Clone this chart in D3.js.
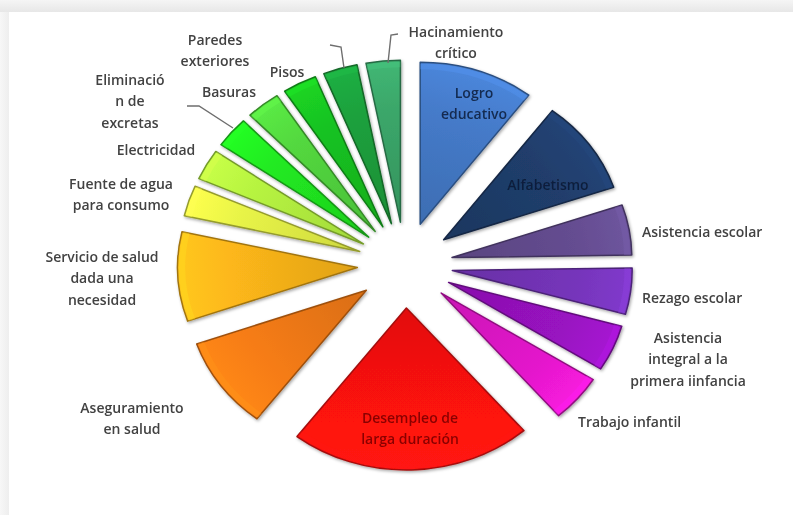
<!DOCTYPE html>
<html>
<head>
<meta charset="utf-8">
<script src="https://cdn.jsdelivr.net/npm/d3@7"></script>
<style>
  html, body { margin: 0; padding: 0; background: #ffffff; }
  svg { display: block; }
</style>
</head>
<body>
<svg id="chart" width="793" height="515"></svg>
<script>
// ---------------- DATA ----------------
const categories = [
  "Logro educativo", "Alfabetismo", "Asistencia escolar", "Rezago escolar",
  "Asistencia integral a la primera iinfancia", "Trabajo infantil",
  "Desempleo de larga duración", "Aseguramiento en salud",
  "Servicio de salud dada una necesidad", "Fuente de agua para consumo",
  "Electricidad", "Eliminación de excretas", "Basuras", "Pisos",
  "Paredes exteriores", "Hacinamiento crítico"
];
// share of the circle (%)
const values = [10.3, 9.4, 5.0, 4.6, 4.6, 4.7, 21.7, 9.2, 8.9, 3.06, 3.06, 3.06, 3.06, 3.06, 3.06, 3.06];
const colors = [
  "#4479c6", "#1f3d6a", "#634c8e", "#7434b8", "#9612be", "#e018c8",
  "#fc1210", "#f27a14", "#f9b41a", "#e4f046", "#b4f040", "#20e620",
  "#52d43e", "#18c020", "#1c9e3c", "#3aa468"
];
// label text lines
const labelLines = [
  ["Logro", "educativo"], ["Alfabetismo"], ["Asistencia escolar"], ["Rezago escolar"],
  ["Asistencia", "integral a la", "primera iinfancia"], ["Trabajo infantil"],
  ["Desempleo de", "larga duración"], ["Aseguramiento", "en salud"],
  ["Servicio de salud", "dada una", "necesidad"], ["Fuente de agua", "para consumo"],
  ["Electricidad"], ["Eliminació", "n de", "excretas"], ["Basuras"], ["Pisos"],
  ["Paredes", "exteriores"], ["Hacinamiento", "crítico"]
];

// ---------------- LAYOUT ----------------
const W = 793, H = 515;
const cx = 405, cy = 265, sx = 1.11, R = 162, explode = 43;

// label placement: [x, firstLineY, anchor, color]
const labelPlace = {
  "Logro educativo": [474, 93, "middle", "#132a50"],
  "Alfabetismo": [548, 185, "middle", "#0c1f3c"],
  "Asistencia escolar": [642, 232, "start", "#424242"],
  "Rezago escolar": [642, 298, "start", "#424242"],
  "Asistencia integral a la primera iinfancia": [688, 338, "middle", "#424242"],
  "Trabajo infantil": [578, 422, "start", "#424242"],
  "Desempleo de larga duración": [410, 418, "middle", "#8a0606"],
  "Aseguramiento en salud": [132, 408, "middle", "#424242"],
  "Servicio de salud dada una necesidad": [102, 257, "middle", "#424242"],
  "Fuente de agua para consumo": [121, 184, "middle", "#424242"],
  "Electricidad": [156, 150, "middle", "#424242"],
  "Eliminación de excretas": [130, 80, "middle", "#424242"],
  "Basuras": [229, 92, "middle", "#424242"],
  "Pisos": [287, 72, "middle", "#424242"],
  "Paredes exteriores": [215, 40, "middle", "#424242"],
  "Hacinamiento crítico": [456, 32, "middle", "#424242"]
};
const lineH = 21.5;

const data = categories.map((c, i) => ({ cat: c, value: values[i], color: colors[i], lines: labelLines[i] }));

const svg = d3.select("#chart");
const defs = svg.append("defs");

// background frame (grey bands on top and left)
const topG = defs.append("linearGradient").attr("id", "topband").attr("x1", 0).attr("y1", 0).attr("x2", 0).attr("y2", 1);
topG.append("stop").attr("offset", "0%").attr("stop-color", "#f5f5f5");
topG.append("stop").attr("offset", "100%").attr("stop-color", "#e7e7e7");
const leftG = defs.append("linearGradient").attr("id", "leftband").attr("x1", 0).attr("y1", 0).attr("x2", 1).attr("y2", 0);
leftG.append("stop").attr("offset", "0%").attr("stop-color", "#f7f7f7");
leftG.append("stop").attr("offset", "100%").attr("stop-color", "#eeeeee");

svg.append("rect").attr("width", W).attr("height", H).attr("fill", "#ffffff");
svg.append("rect").attr("x", 0).attr("y", 0).attr("width", 9).attr("height", H).attr("fill", "url(#leftband)");
svg.append("rect").attr("x", 0).attr("y", 0).attr("width", W).attr("height", 12).attr("fill", "url(#topband)");

// shadow filter
const f = defs.append("filter").attr("id", "shadow").attr("x", "-20%").attr("y", "-20%").attr("width", "140%").attr("height", "140%");
f.append("feDropShadow").attr("dx", 1).attr("dy", 1.5).attr("stdDeviation", 1.6)
  .attr("flood-color", "#000").attr("flood-opacity", 0.35);
const soft = defs.append("filter").attr("id", "soft");
soft.append("feGaussianBlur").attr("stdDeviation", 0.35);

const pie = d3.pie().sort(null).value(d => d.value).startAngle(0).endAngle(2 * Math.PI);
const arcs = pie(data);
const arcGen = d3.arc().innerRadius(0).outerRadius(R);
const rimGen = d3.arc().innerRadius(R - 7).outerRadius(R - 1.5);

// gradients per slice
arcs.forEach((a, i) => {
  const mid = (a.startAngle + a.endAngle) / 2;
  const c = d3.color(a.data.color);
  const g = defs.append("linearGradient").attr("id", "g" + i)
    .attr("gradientUnits", "userSpaceOnUse")
    .attr("x1", 0).attr("y1", 0)
    .attr("x2", R * Math.sin(mid)).attr("y2", -R * Math.cos(mid));
  g.append("stop").attr("offset", "0%").attr("stop-color", c.darker(0.3));
  g.append("stop").attr("offset", "70%").attr("stop-color", c.brighter(0.05));
  g.append("stop").attr("offset", "100%").attr("stop-color", c.brighter(0.3));
});

const pieG = svg.append("g").attr("transform", `translate(${cx},${cy}) scale(${sx},1)`);

const slice = pieG.selectAll("g.slice").data(arcs).join("g")
  .attr("class", "slice")
  .attr("transform", d => {
    const mid = (d.startAngle + d.endAngle) / 2;
    return `translate(${explode * Math.sin(mid)},${-explode * Math.cos(mid)})`;
  });

slice.append("path")
  .attr("d", arcGen)
  .attr("fill", (d, i) => `url(#g${i})`)
  .attr("stroke", d => d3.color(d.data.color).darker(1.2))
  .attr("stroke-width", 1.5)
  .attr("stroke-linejoin", "round")
  .attr("vector-effect", "non-scaling-stroke")
  .attr("filter", "url(#shadow)");

// light bevel along outer rim
slice.append("path")
  .attr("d", rimGen)
  .attr("fill", d => d3.color(d.data.color).brighter(0.6))
  .attr("opacity", 0.4);

// ---------------- LABELS ----------------
const labelG = svg.append("g")
  .attr("font-family", "'Open Sans', 'Liberation Sans', sans-serif")
  .attr("font-size", 14)
  .attr("font-weight", 600)
  .attr("filter", "url(#soft)");

data.forEach(d => {
  const p = labelPlace[d.cat];
  const t = labelG.append("text")
    .attr("x", p[0]).attr("y", p[1])
    .attr("text-anchor", p[2])
    .attr("fill", p[3]);
  d.lines.forEach((ln, j) => {
    t.append("tspan").attr("x", p[0]).attr("y", p[1] + j * lineH).attr("dy", "0.35em").text(ln);
  });
});

// leader lines
const leaders = [
  "M398,34 L391,35 L388,63",
  "M330,45 L341,47 L344,68",
  "M187,106 L199,106 L233,128"
];
svg.append("g").selectAll("path").data(leaders).join("path")
  .attr("d", d => d)
  .attr("fill", "none")
  .attr("stroke", "#6e6e6e")
  .attr("stroke-width", 1.4);
</script>
</body>
</html>
